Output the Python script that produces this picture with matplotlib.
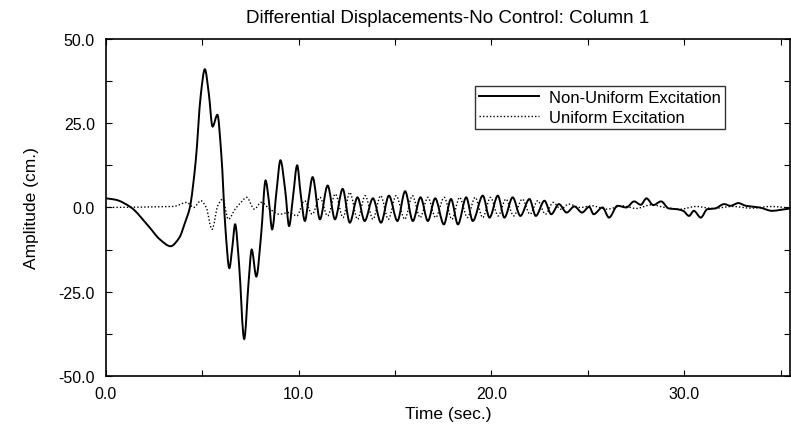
import matplotlib
matplotlib.use("Agg")
import matplotlib.pyplot as plt
from matplotlib.ticker import MultipleLocator
from matplotlib.path import Path
from matplotlib.patches import PathPatch
from matplotlib.lines import Line2D

plt.rcParams['font.family'] = ['Liberation Sans', 'DejaVu Sans']

# values (time in sec., amplitude in cm.)
t_nonuniform = [0.0, 0.5, 1.3, 2.2, 2.8, 3.35, 3.8, 4.1, 4.35, 4.65, 4.92, 5.13,
                5.33, 5.53, 5.78, 5.98, 6.2, 6.4, 6.55, 6.7, 6.9, 7.17, 7.4, 7.56,
                7.8, 8.05, 8.28, 8.45, 8.62, 8.85, 9.05, 9.3, 9.5, 9.7, 9.92, 10.1,
                10.32, 10.5, 10.72, 11.1, 11.5, 11.88, 12.28, 12.65, 13.05, 13.42,
                13.85, 14.27, 14.68, 15.12, 15.52, 15.92, 16.32, 16.7, 17.08, 17.53,
                17.9, 18.26, 18.69, 19.03, 19.55, 19.9, 20.33, 20.67, 21.1, 21.5,
                21.97, 22.3, 22.75, 23.1, 23.5, 23.9, 24.3, 24.7, 25.07, 25.3, 25.76,
                26.1, 26.54, 27.0, 27.4, 27.75, 28.04, 28.4, 28.8, 29.2, 29.6, 29.95,
                30.25, 30.5, 30.86, 31.2, 31.6, 32.07, 32.4, 32.81, 33.2, 33.9, 34.57,
                35.0, 35.5]
a_nonuniform = [2.7, 2.3, 0.0, -5.5, -9.5, -11.5, -9.0, -4.5, 0.0, 13.5, 33.5, 41.0,
                34.0, 24.0, 27.5, 16.0, -6.5, -18.0, -12.0, -5.0, -16.5, -39.0, -22.0, -12.5,
                -20.5, -8.0, 8.0, 2.0, -6.5, 5.0, 14.0, 5.0, -5.5, 3.0, 12.5, 4.0,
                -4.0, 2.0, 9.0, -3.5, 6.5, -3.5, 5.5, -4.5, 3.0, -4.0,
                2.7, -4.5, 3.5, -4.0, 4.8, -4.0, 3.0, -4.0, 2.7, -5.0,
                2.5, -5.0, 3.0, -4.0, 3.5, -3.0, 3.5, -3.0, 3.0, -2.5,
                2.5, -2.5, 2.0, -2.0, 1.0, -1.5, 0.3, -1.5, 0.2, -2.0, 0.0,
                -3.0, 0.5, 0.0, 1.8, 0.8, 2.7, 0.7, 1.8, -0.3, -0.5, -1.0,
                -2.5, -1.0, -3.0, -0.5, -0.3, 1.0, 0.5, 1.3, 0.5, 0.0, -1.0,
                -0.7, -0.3]

t_uniform = [0.0, 3.5, 4.2, 4.55, 4.92, 5.2, 5.5, 5.8, 6.05, 6.35, 6.7, 7.0, 7.3,
             7.7, 8.05, 8.5, 9.0, 9.5, 9.9, 10.3, 10.7, 11.1, 11.5, 11.9, 12.3,
             12.65, 13.05, 13.45, 13.85, 14.25, 14.65, 15.05, 15.5, 15.9, 16.3,
             16.7, 17.1, 17.55, 17.95, 18.35, 18.75, 19.15, 19.55, 19.95, 20.35,
             20.75, 21.15, 21.6, 22.0, 22.4, 22.8, 23.2, 23.6, 24.0, 24.6, 25.2,
             26.0, 26.8, 27.5, 28.3, 29.0, 29.8, 30.6, 31.5, 32.5, 33.5, 34.5, 35.5]
a_uniform = [0.0, 0.3, 1.5, 0.0, 2.0, 0.0, -6.5, 0.5, 2.5, -3.5, -0.5, 1.5, 3.0,
             -0.5, 1.5, -0.5, -2.0, -1.5, -2.5, 2.0, -2.0, 3.0, -2.5, 4.0, -3.0,
             4.5, -3.5, 3.5, -3.5, 3.5, -3.5, 3.5, -3.5, 3.5, -3.0,
             3.0, -3.0, 3.0, -3.5, 3.0, -3.0, 3.0, -3.0, 3.0, -2.5,
             2.5, -2.5, 2.5, -2.0, 2.0, -2.0, 1.5, -0.5, 1.0, 0.0, 0.5,
             -0.5, 0.5, -0.3, 0.8, 0.0, -0.5, 0.3, -0.3, 0.3, -0.2, 0.3, -0.2]

x_ticks = [0, 10, 20, 30]
y_ticks = [-50, -25, 0, 25, 50]


def smooth_path(xs, ys):
  '''
  Bezier path through the read points (flat tangent at peaks and troughs),
  so the curve is drawn round like the original trace.
  '''
  n = len(xs)
  slopes = []
  for i in range(n):
    if i == 0:
      s = (ys[1] - ys[0]) / (xs[1] - xs[0])
    elif i == n - 1:
      s = (ys[-1] - ys[-2]) / (xs[-1] - xs[-2])
    else:
      d0 = (ys[i] - ys[i - 1]) / (xs[i] - xs[i - 1])
      d1 = (ys[i + 1] - ys[i]) / (xs[i + 1] - xs[i])
      if d0 * d1 <= 0:
        s = 0.0
      else:
        s = 2.0 / (1.0 / d0 + 1.0 / d1)
    slopes.append(s)
  verts = [(xs[0], ys[0])]
  codes = [Path.MOVETO]
  for i in range(n - 1):
    h = xs[i + 1] - xs[i]
    verts += [(xs[i] + h / 3, ys[i] + slopes[i] * h / 3),
              (xs[i + 1] - h / 3, ys[i + 1] - slopes[i + 1] * h / 3),
              (xs[i + 1], ys[i + 1])]
    codes += [Path.CURVE4] * 3
  return Path(verts, codes)


fig = plt.figure(figsize=(7.91, 4.31), dpi=100)
ax = fig.add_axes([0.134, 0.1253, 0.865, 0.782])

solid_style = dict(color='black', lw=1.4)
dotted_style = dict(color='black', lw=1.0, linestyle=(0, (1, 1.5)))

ax.add_patch(PathPatch(smooth_path(t_nonuniform, a_nonuniform), fill=False,
                       edgecolor=solid_style['color'], lw=solid_style['lw']))
ax.add_patch(PathPatch(smooth_path(t_uniform, a_uniform), fill=False,
                       edgecolor=dotted_style['color'], lw=dotted_style['lw'],
                       linestyle=dotted_style['linestyle']))

ax.set_xlim(0, 35.5)
ax.set_ylim(-50, 50)
ax.set_xticks(x_ticks)
ax.set_xticklabels(['%.1f' % v for v in x_ticks])
ax.set_yticks(y_ticks)
ax.set_yticklabels(['%.1f' % v for v in y_ticks])
ax.xaxis.set_minor_locator(MultipleLocator(5))
ax.yaxis.set_minor_locator(MultipleLocator(12.5))
ax.tick_params(which='both', direction='in', top=True, right=True,
               labelsize=11.5, width=0.8)
ax.tick_params(which='major', length=4)
ax.tick_params(which='minor', length=4)
ax.tick_params(axis='x', pad=7)
ax.tick_params(axis='y', pad=8)
for s in ax.spines.values():
  s.set_linewidth(1.2)

ax.set_title('Differential Displacements-No Control: Column 1',
             fontsize=13.5, pad=12)
ax.set_xlabel('Time (sec.)', fontsize=12.5, labelpad=4)
ax.set_ylabel('Amplitude (cm.)', fontsize=12.5, labelpad=14)

handles = [Line2D([], [], **solid_style), Line2D([], [], **dotted_style)]
leg = ax.legend(handles, ['Non-Uniform Excitation', 'Uniform Excitation'],
                loc='upper left', bbox_to_anchor=(0.539, 0.861), fontsize=12,
                frameon=True, fancybox=False, edgecolor='black',
                handlelength=3.6, handletextpad=0.6, borderpad=0.25,
                labelspacing=0.3, borderaxespad=0)
leg.get_frame().set_linewidth(1.0)

fig.savefig('out.png', dpi=100)
